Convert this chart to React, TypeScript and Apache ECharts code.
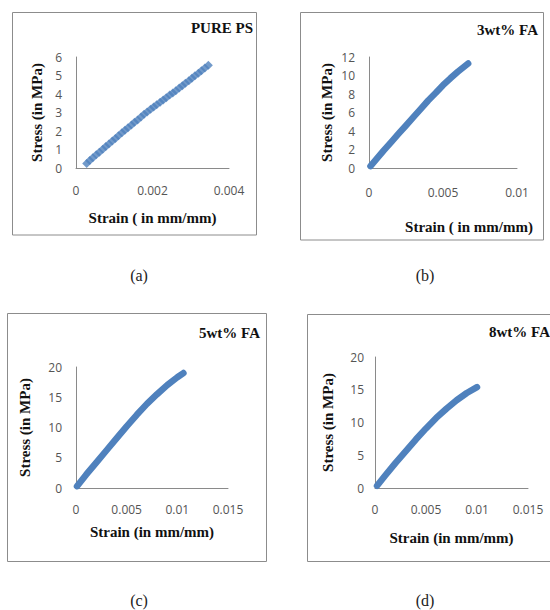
import React, { useEffect, useRef } from "react";
import * as echarts from "echarts";

// Panel (a) PURE PS: discrete points
const strainA = [0.00028, 0.00036, 0.00044, 0.00053, 0.00061, 0.0007, 0.00078, 0.00086, 0.00095, 0.00103, 0.00111, 0.0012, 0.00128, 0.00136, 0.00145, 0.00153, 0.00161, 0.0017, 0.00178, 0.00186, 0.00195, 0.00203, 0.00211, 0.0022, 0.00228, 0.00236, 0.00245, 0.00253, 0.00261, 0.0027, 0.00278, 0.00286, 0.00295, 0.00303, 0.00311, 0.0032, 0.00328, 0.00337, 0.00346];
const stressA = [0.25, 0.4, 0.55, 0.72, 0.85, 1.02, 1.16, 1.3, 1.46, 1.6, 1.74, 1.9, 2.04, 2.17, 2.33, 2.47, 2.6, 2.76, 2.9, 3.03, 3.17, 3.3, 3.42, 3.56, 3.68, 3.8, 3.94, 4.06, 4.18, 4.32, 4.45, 4.58, 4.72, 4.85, 4.98, 5.12, 5.26, 5.4, 5.55];

// Panel (b) 3wt% FA
const strainB = [0.0001, 0.0005, 0.001, 0.0015, 0.002, 0.0025, 0.003, 0.0035, 0.004, 0.0045, 0.005, 0.0055, 0.006, 0.0067];
const stressB = [0.2, 0.95, 1.9, 2.8, 3.72, 4.6, 5.5, 6.4, 7.3, 8.1, 8.95, 9.7, 10.4, 11.3];

// Panel (c) 5wt% FA
const strainC = [0.0001, 0.001, 0.002, 0.003, 0.004, 0.005, 0.006, 0.007, 0.008, 0.009, 0.01, 0.0106];
const stressC = [0.3, 2.2, 4.2, 6.2, 8.2, 10.2, 12.1, 13.9, 15.5, 17.0, 18.3, 19.0];

// Panel (d) 8wt% FA
const strainD = [0.0002, 0.001, 0.002, 0.003, 0.004, 0.005, 0.006, 0.007, 0.008, 0.009, 0.01];
const stressD = [0.35, 1.9, 3.8, 5.6, 7.4, 9.1, 10.7, 12.1, 13.4, 14.5, 15.4];

const panelTitles = ["PURE PS", "3wt% FA", "5wt% FA", "8wt% FA"];
const captions = ["(a)", "(b)", "(c)", "(d)"];
const yTitle = "Stress (in MPa)";
const xTitles = ["Strain ( in mm/mm)", "Strain ( in mm/mm)", "Strain (in mm/mm)", "Strain (in mm/mm)"];
const xMax = [0.004, 0.01, 0.015, 0.015];
const xInterval = [0.002, 0.005, 0.005, 0.005];
const yMax = [6, 12, 20, 20];
const yInterval = [1, 2, 5, 5];

const BLUE = "#4F81BD";
const serifBold = { fontFamily: "Liberation Serif", fontWeight: "bold" as const, fontSize: 15, color: "#111" };

function pairs(xs: number[], ys: number[]) {
  return xs.map((x, i) => [x, ys[i]]);
}

export default function App() {
  const ref = useRef<HTMLDivElement>(null);
  useEffect(() => {
    if (!ref.current) return;
    const chart = echarts.init(ref.current, null, { renderer: "svg" });

    const grids = [
      { left: 76, top: 57, width: 153, height: 111 },
      { left: 369, top: 57, width: 148, height: 111 },
      { left: 76, top: 367, width: 152, height: 121 },
      { left: 375, top: 357, width: 153, height: 131 },
    ];
    const yNameGap = [32, 35, 44, 40];
    const xNameGap = [42, 51, 36, 42];
    const xNamePad = [
      [0, 0, 0, 0],
      [0, 0, 0, 52],
      [0, 0, 0, 0],
      [0, 0, 0, 0],
    ];
    const xLabelMargin = [16, 18, 15, 15];
    const yLabelMargin = [14, 14, 14, 11];

    const axisLine = { show: true, lineStyle: { color: "#8a8a8a", width: 1 } };
    const tickLabel = { fontFamily: "Open Sans", fontSize: 12, color: "#555" };

    const xAxis = grids.map((_, i) => ({
      type: "value",
      gridIndex: i,
      min: 0,
      max: xMax[i],
      interval: xInterval[i],
      axisLine,
      axisTick: { show: false },
      splitLine: { show: false },
      axisLabel: { ...tickLabel, margin: xLabelMargin[i], formatter: (v: number) => String(+v.toFixed(4)) },
      name: xTitles[i],
      nameLocation: "middle",
      nameGap: xNameGap[i],
      nameTextStyle: { ...serifBold, padding: xNamePad[i] },
    }));
    const yAxis = grids.map((_, i) => ({
      type: "value",
      gridIndex: i,
      min: 0,
      max: yMax[i],
      interval: yInterval[i],
      axisLine,
      axisTick: { show: false },
      splitLine: { show: false },
      axisLabel: { ...tickLabel, margin: yLabelMargin[i] },
      name: yTitle,
      nameLocation: "middle",
      nameGap: yNameGap[i],
      nameTextStyle: { ...serifBold },
    }));

    const lineSeries = (i: number, xs: number[], ys: number[]) => ({
      type: "line",
      xAxisIndex: i,
      yAxisIndex: i,
      data: pairs(xs, ys),
      smooth: false,
      showSymbol: false,
      clip: false,
      lineStyle: { color: BLUE, width: 6.5, cap: "round", join: "round" },
      itemStyle: { color: BLUE },
    });

    const borders = [
      { x: 12.5, y: 12.5, w: 244, h: 222.5 },
      { x: 300.5, y: 12.5, w: 243, h: 227.5 },
      { x: 7.5, y: 313.5, w: 259, h: 248 },
      { x: 307.5, y: 314.5, w: 260, h: 247 },
    ];
    const capPos = [
      [139, 275],
      [425, 275],
      [139, 600],
      [425, 600],
    ];

    chart.setOption({
      animation: false,
      backgroundColor: "#fff",
      title: [
        { text: panelTitles[0], right: 297, top: 20, padding: 0, textStyle: serifBold },
        { text: panelTitles[1], right: 12, top: 22, padding: 0, textStyle: serifBold },
        { text: panelTitles[2], right: 290, top: 325, padding: 0, textStyle: serifBold },
        { text: panelTitles[3], right: 0, top: 324, padding: 0, textStyle: serifBold },
      ],
      grid: grids,
      xAxis,
      yAxis,
      series: [
        {
          type: "scatter",
          xAxisIndex: 0,
          yAxisIndex: 0,
          data: pairs(strainA, stressA),
          symbol: "diamond",
          symbolSize: 9,
          clip: false,
          itemStyle: { color: BLUE },
        },
        lineSeries(1, strainB, stressB),
        lineSeries(2, strainC, stressC),
        lineSeries(3, strainD, stressD),
      ],
      graphic: [
        ...borders.map((b) => ({
          type: "rect",
          shape: { x: b.x, y: b.y, width: b.w, height: b.h },
          style: { fill: "none", stroke: "#8c8c8c", lineWidth: 1 },
          silent: true,
          z: -1,
        })),
        ...captions.map((c, i) => ({
          type: "text",
          x: capPos[i][0],
          y: capPos[i][1],
          style: {
            text: c,
            fontFamily: "Liberation Serif",
            fontSize: 16,
            fill: "#222",
            align: "center",
            verticalAlign: "middle",
          },
        })),
      ],
    });
    return () => chart.dispose();
  }, []);
  return (
    <div
      ref={ref}
      style={{ position: "absolute", left: 0, top: 0, width: 550, height: 610 }}
    />
  );
}
